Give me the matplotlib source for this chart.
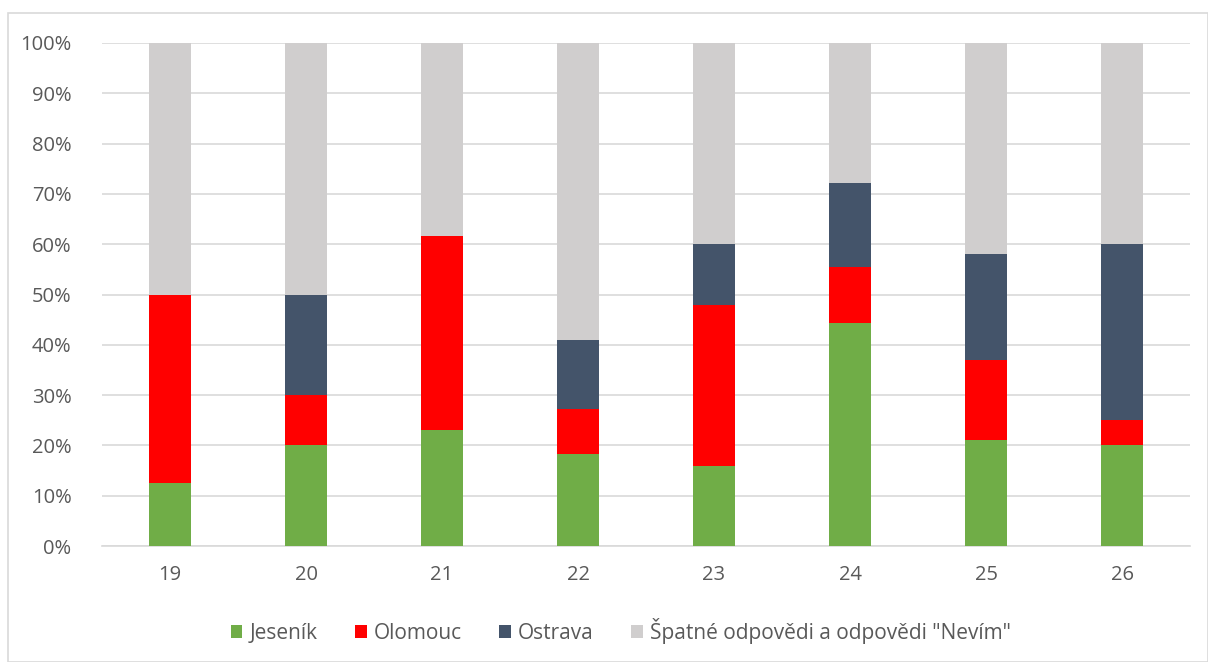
import matplotlib
matplotlib.use("Agg")
import matplotlib.pyplot as plt
from matplotlib.patches import Rectangle
import numpy as np

categories = ["19", "20", "21", "22", "23", "24", "25", "26"]
jesenik = [12.5, 20.0, 23.1, 18.2, 16.0, 44.4, 21.1, 20.0]
olomouc = [37.5, 10.0, 38.5, 9.1, 32.0, 11.1, 15.8, 5.0]
ostrava = [0.0, 20.0, 0.0, 13.6, 12.0, 16.7, 21.1, 35.0]
spatne = [50.0, 50.0, 38.4, 59.1, 40.0, 27.8, 42.0, 40.0]
series_names = ["Jeseník", "Olomouc", "Ostrava", "Špatné odpovědi a odpovědi \"Nevím\""]
colors = ["#70AD47", "#FF0000", "#44546A", "#D0CECE"]

plt.rcParams['font.family'] = ['Open Sans', 'DejaVu Sans']
txt = "#595959"

fig = plt.figure(figsize=(12.08, 6.62), dpi=100)
fig.patches.append(Rectangle((8/1208, 0), 1 - 8/1208, 1 - 13/662, transform=fig.transFigure,
                             fill=False, edgecolor="#D9D9D9", linewidth=1.2))
ax = fig.add_axes([102/1208, 1 - 546/662, (1190 - 102)/1208, (546 - 43)/662])

x = np.arange(len(categories))
bottom = np.zeros(len(categories))
data = [jesenik, olomouc, ostrava, spatne]
for vals, name, c in zip(data, series_names, colors):
    v = np.array(vals)
    ax.bar(x, v, 0.31, bottom=bottom, color=c, label=name, zorder=3)
    bottom += v

ax.set_xlim(-0.5, len(categories) - 0.5)
ax.set_ylim(0, 100)
ax.set_yticks(np.arange(0, 101, 10))
ax.set_yticklabels([f"{t}%" for t in range(0, 101, 10)])
ax.set_xticks(x)
ax.set_xticklabels(categories)
ax.grid(axis='y', color="#D9D9D9", linewidth=1.2, zorder=0)
for s in ["top", "right", "left"]:
    ax.spines[s].set_visible(False)
ax.spines["bottom"].set_color("#D9D9D9")
ax.spines["bottom"].set_linewidth(1.2)
ax.tick_params(axis='both', length=0, colors=txt, labelsize=14.5)
ax.tick_params(axis='y', pad=22)
ax.tick_params(axis='x', pad=14)

leg = fig.legend(loc="center", bbox_to_anchor=(621/1208, 1 - 631/662), ncol=4, frameon=False,
                 fontsize=15, handlelength=0.55, handleheight=0.55, handletextpad=0.35,
                 columnspacing=1.8, labelcolor=txt)

fig.savefig("out.png", dpi=100)
